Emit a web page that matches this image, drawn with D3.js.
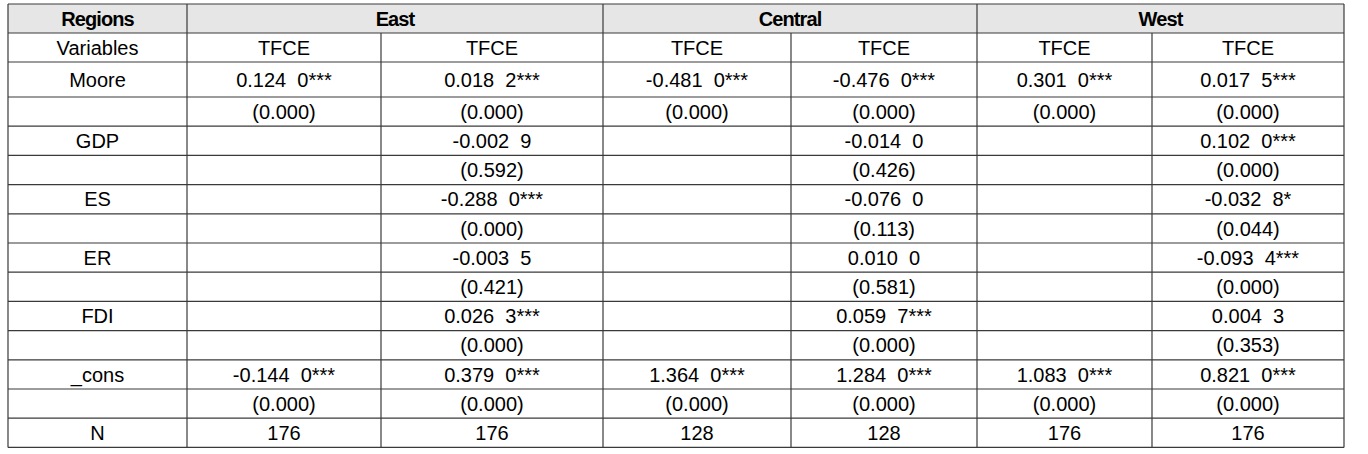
<!DOCTYPE html>
<html>

<head>
    <meta charset="UTF-8">
    <style>
        body { margin: 0; background: #fff; }
        text { font-family: "Liberation Sans", Arial, sans-serif; fill: #000; }
        .head { font-weight: bold; letter-spacing: -0.9px; }
    </style>
</head>

<body>
    <svg></svg>
    <script src="https://d3js.org/d3.v7.min.js"></script>

    <script>

        let width = 1368, height = 454;

        // table content
        let regions = ["East", "Central", "West"];
        let models = ["TFCE", "TFCE", "TFCE", "TFCE", "TFCE", "TFCE"];
        let variables = ["Moore", "GDP", "ES", "ER", "FDI", "_cons"];

        // coefficient / p-value per variable, one array per model column (null = not in model)
        let eastA = [["0.124  0***", "(0.000)"], null, null, null, null, ["-0.144  0***", "(0.000)"]];
        let eastB = [["0.018  2***", "(0.000)"], ["-0.002  9", "(0.592)"], ["-0.288  0***", "(0.000)"], ["-0.003  5", "(0.421)"], ["0.026  3***", "(0.000)"], ["0.379  0***", "(0.000)"]];
        let centralA = [["-0.481  0***", "(0.000)"], null, null, null, null, ["1.364  0***", "(0.000)"]];
        let centralB = [["-0.476  0***", "(0.000)"], ["-0.014  0", "(0.426)"], ["-0.076  0", "(0.113)"], ["0.010  0", "(0.581)"], ["0.059  7***", "(0.000)"], ["1.284  0***", "(0.000)"]];
        let westA = [["0.301  0***", "(0.000)"], null, null, null, null, ["1.083  0***", "(0.000)"]];
        let westB = [["0.017  5***", "(0.000)"], ["0.102  0***", "(0.000)"], ["-0.032  8*", "(0.044)"], ["-0.093  4***", "(0.000)"], ["0.004  3", "(0.353)"], ["0.821  0***", "(0.000)"]];
        let nObs = [176, 176, 128, 128, 176, 176];

        let columns = [eastA, eastB, centralA, centralB, westA, westB];

        // layout
        let fontSize = 20;
        let colEdges = [8, 187, 381, 603, 791, 977, 1152, 1344];
        let rowHeights = [29, 29, 35].concat(d3.range(12).map(() => 29.2));
        let rowEdges = [4];
        rowHeights.forEach((h, i) => rowEdges.push(rowEdges[i] + h));

        let svg = d3.select("svg")
            .attr("width", width)
            .attr("height", height)
            .attr("viewBox", "0 0 " + width + " " + height);

        // build the cell grid (rows of strings)
        let rows = [];
        rows.push(["Variables"].concat(models));
        variables.forEach((v, i) => {
            rows.push([v].concat(columns.map(c => c[i] ? c[i][0] : "")));
            rows.push([""].concat(columns.map(c => c[i] ? c[i][1] : "")));
        });
        rows.push(["N"].concat(nObs.map(String)));

        let cells = [];
        rows.forEach((r, ri) => r.forEach((t, ci) => {
            if (t !== "") cells.push({ row: ri + 1, col: ci, text: t });
        }));

        let x = i => colEdges[i];
        let y = i => rowEdges[i];
        let last = rowEdges.length - 1;

        // header background
        svg.append("rect")
            .attr("x", x(0)).attr("y", y(0))
            .attr("width", x(7) - x(0)).attr("height", y(1) - y(0))
            .attr("fill", "#e6e6e6");

        let lines = svg.append("g")
            .attr("stroke", "#3a3a3a")
            .attr("stroke-width", 1.2);

        // horizontal rules
        lines.selectAll("line.h")
            .data(rowEdges)
            .enter()
            .append("line")
            .attr("x1", x(0)).attr("x2", x(7))
            .attr("y1", d => d).attr("y2", d => d);

        // vertical rules: group borders run full height, inner ones start under header
        let groupEdges = [0, 1, 3, 5, 7];
        lines.selectAll("line.v")
            .data(d3.range(8))
            .enter()
            .append("line")
            .attr("x1", d => x(d)).attr("x2", d => x(d))
            .attr("y1", d => groupEdges.includes(d) ? y(0) : y(1))
            .attr("y2", y(last));

        // header text
        let headCells = [["Regions", 0, 1]].concat(regions.map((r, i) => [r, 1 + i * 2, 3 + i * 2]));
        svg.append("g").selectAll("text")
            .data(headCells)
            .enter()
            .append("text")
            .attr("class", "head")
            .attr("x", d => (x(d[1]) + x(d[2])) / 2)
            .attr("y", (y(0) + y(1)) / 2 + 0.36 * fontSize)
            .attr("text-anchor", "middle")
            .attr("font-size", fontSize)
            .text(d => d[0]);

        // body text
        svg.append("g").selectAll("text")
            .data(cells)
            .enter()
            .append("text")
            .attr("x", d => (x(d.col) + x(d.col + 1)) / 2)
            .attr("y", d => (y(d.row) + y(d.row + 1)) / 2 + 0.36 * fontSize)
            .attr("text-anchor", "middle")
            .attr("font-size", fontSize)
            .style("white-space", "pre")
            .text(d => d.text);

    </script>
</body>

</html>
